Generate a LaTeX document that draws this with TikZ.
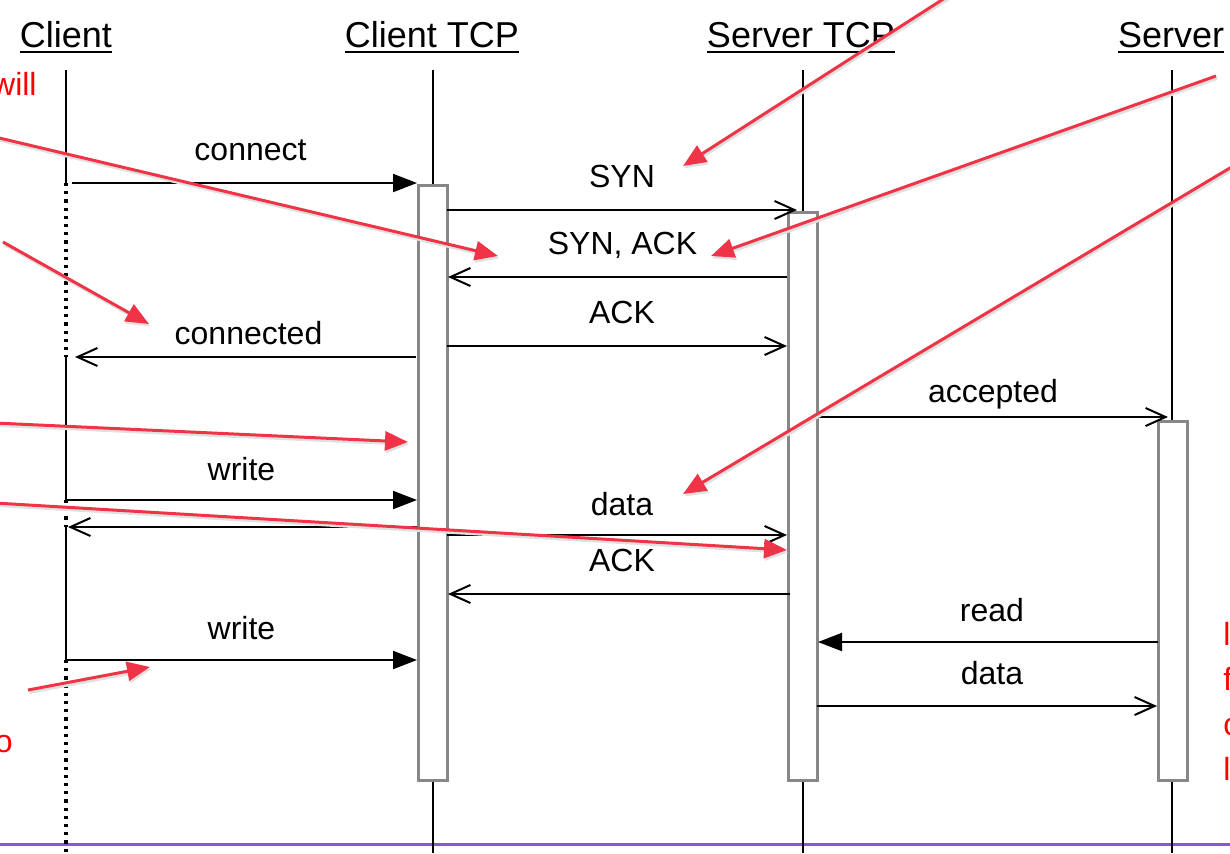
\documentclass[tikz,border=0pt]{standalone}
\usepackage{fontspec}
\setmainfont{Liberation Sans}
\usetikzlibrary{positioning,arrows.meta,calc}

\definecolor{notered}{HTML}{EE3446}
\definecolor{boxgray}{HTML}{878787}
\definecolor{rulepurple}{HTML}{8858D0}

\begin{document}
\begin{tikzpicture}[x=0.5pt,y=-0.5pt,
  head/.style={font=\fontsize{18}{22}\selectfont, anchor=base, inner sep=0pt},
  lbl/.style={font=\fontsize{16}{19}\selectfont, above=11pt, inner sep=0pt, text depth=0pt},
  note/.style={font=\fontsize{16}{19}\selectfont, text=red, inner sep=0pt},
  life/.style={line width=1pt},
  idle/.style={line width=1.6pt, dash pattern=on 1.6pt off 2.5pt},
  actbox/.style={draw=boxgray, fill=white, line width=1.5pt},
  call/.style={line width=1pt, -{Triangle[length=12pt,width=9pt]}},
  reply/.style={line width=1pt, -{Straight Barb[length=10pt,width=9pt]}},
  hint/.style={color=notered, line width=1.5pt, -{Triangle[length=11.5pt,width=9.5pt]}},
  hintshadow/.style={hint, color=black!12, transform canvas={shift={(0.6pt,-1.2pt)}}}]

  \useasboundingbox (0,0) rectangle (1230,853);

  \draw[rulepurple, line width=1.5pt] (0,844) -- (1230,844);

  % headers
  \node[head] (client) at (66,47) {Client};
  \node[head] (ctcp) at (432,47) {Client TCP};
  \node[head] (stcp) at (801,47) {Server TCP};
  \node[head] (server) at (1171,47) {Server};
  \foreach \h in {client,ctcp,stcp,server}
    \draw[line width=1.4pt] ($(\h.base west)+(0,5)$) -- ($(\h.base east)+(0,5)$);

  % lifelines
  \draw[life] (66,70) -- (66,183);
  \draw[idle] (66,183) -- (66,357);
  \draw[life] (66,357) -- (66,500);
  \draw[idle] (66,500) -- (66,527);
  \draw[life] (66,527) -- (66,660);
  \draw[idle] (66,660) -- (66,853);
  \draw[life] (433,70) -- (433,853);
  \draw[life] (803,70) -- (803,853);
  \draw[life] (1172,70) -- (1172,853);

  \draw[actbox] (418,185) rectangle (447,780);
  \draw[actbox] (788,212) rectangle (817,780);
  \draw[actbox] (1158,421) rectangle (1187,780);

  % message ends
  \coordinate (connect-a) at (72,183);    \coordinate (connect-b) at (417,183);
  \coordinate (syn-a) at (447,210);       \coordinate (syn-b) at (797,210);
  \coordinate (synack-a) at (787,277);    \coordinate (synack-b) at (448,277);
  \coordinate (ack-a) at (447,346);       \coordinate (ack-b) at (787,346);
  \coordinate (conn-a) at (416,357);      \coordinate (conn-b) at (75,357);
  \coordinate (acc-a) at (818,417);       \coordinate (acc-b) at (1168,417);
  \coordinate (write-a) at (66,500);      \coordinate (write-b) at (417,500);
  \coordinate (back-a) at (417,527);      \coordinate (back-b) at (68,527);
  \coordinate (data-a) at (447,535);      \coordinate (data-b) at (787,535);
  \coordinate (ack2-a) at (790,594);      \coordinate (ack2-b) at (448,594);
  \coordinate (read-a) at (1158,642);     \coordinate (read-b) at (818,642);
  \coordinate (write2-a) at (66,660);     \coordinate (write2-b) at (417,660);
  \coordinate (data2-a) at (817,706);     \coordinate (data2-b) at (1157,706);

  \path[call] (connect-a) edge node[lbl, xshift=3pt] {connect} (connect-b);
  \path[reply] (syn-a) edge node[lbl] {SYN} (syn-b);
  \path[reply] (synack-a) edge node[lbl, xshift=2.5pt] {SYN, ACK} (synack-b);
  \path[reply] (ack-a) edge node[lbl, xshift=2.5pt] {ACK} (ack-b);
  \path[reply] (conn-a) edge node[lbl, above=6pt, xshift=1.5pt] {connected} (conn-b);
  \path[reply] (acc-a) edge node[lbl, above=7pt] {accepted} (acc-b);
  \path[call] (write-a) edge node[lbl, above=9.5pt] {write} (write-b);
  \path[reply] (back-a) edge (back-b);
  \path[reply] (data-a) edge node[lbl, above=9.5pt, xshift=2.5pt] {data} (data-b);
  \path[reply] (ack2-a) edge node[lbl, xshift=1.5pt] {ACK} (ack2-b);
  \path[call] (read-a) edge node[lbl, above=10pt, xshift=2pt] {read} (read-b);
  \path[call] (write2-a) edge node[lbl, above=10pt] {write} (write2-b);
  \path[reply] (data2-a) edge node[lbl, above=10.5pt, xshift=2.5pt] {data} (data2-b);

  % notes
  \node[note, anchor=base east] (will) at (37,95) {will};
  \node[note, anchor=base east] (lefto) at (13,752) {o};
  \foreach \t/\y in {l/645,f/690,c/735,l/780}
    \node[note, anchor=base west] (rnote-\y) at (1223,\y) {\t};

  \coordinate (h1-a) at (948,-4);   \coordinate (h1-b) at (683,166);
  \coordinate (h2-a) at (1216,76);  \coordinate (h2-b) at (711,256);
  \coordinate (h3-a) at (1240,162); \coordinate (h3-b) at (683,494);
  \coordinate (h4-a) at (-5,137);   \coordinate (h4-b) at (498,256);
  \coordinate (h5-a) at (3,242);    \coordinate (h5-b) at (149,324);
  \coordinate (h6-a) at (-5,423);   \coordinate (h6-b) at (408,442);
  \coordinate (h7-a) at (-5,503);   \coordinate (h7-b) at (787,550);
  \coordinate (h8-a) at (28,690);   \coordinate (h8-b) at (150,667);
  \foreach \i in {1,...,8}{
    \draw[hintshadow] (h\i-a) -- (h\i-b);
    \draw[hint] (h\i-a) -- (h\i-b);
  }

\end{tikzpicture}
\end{document}
